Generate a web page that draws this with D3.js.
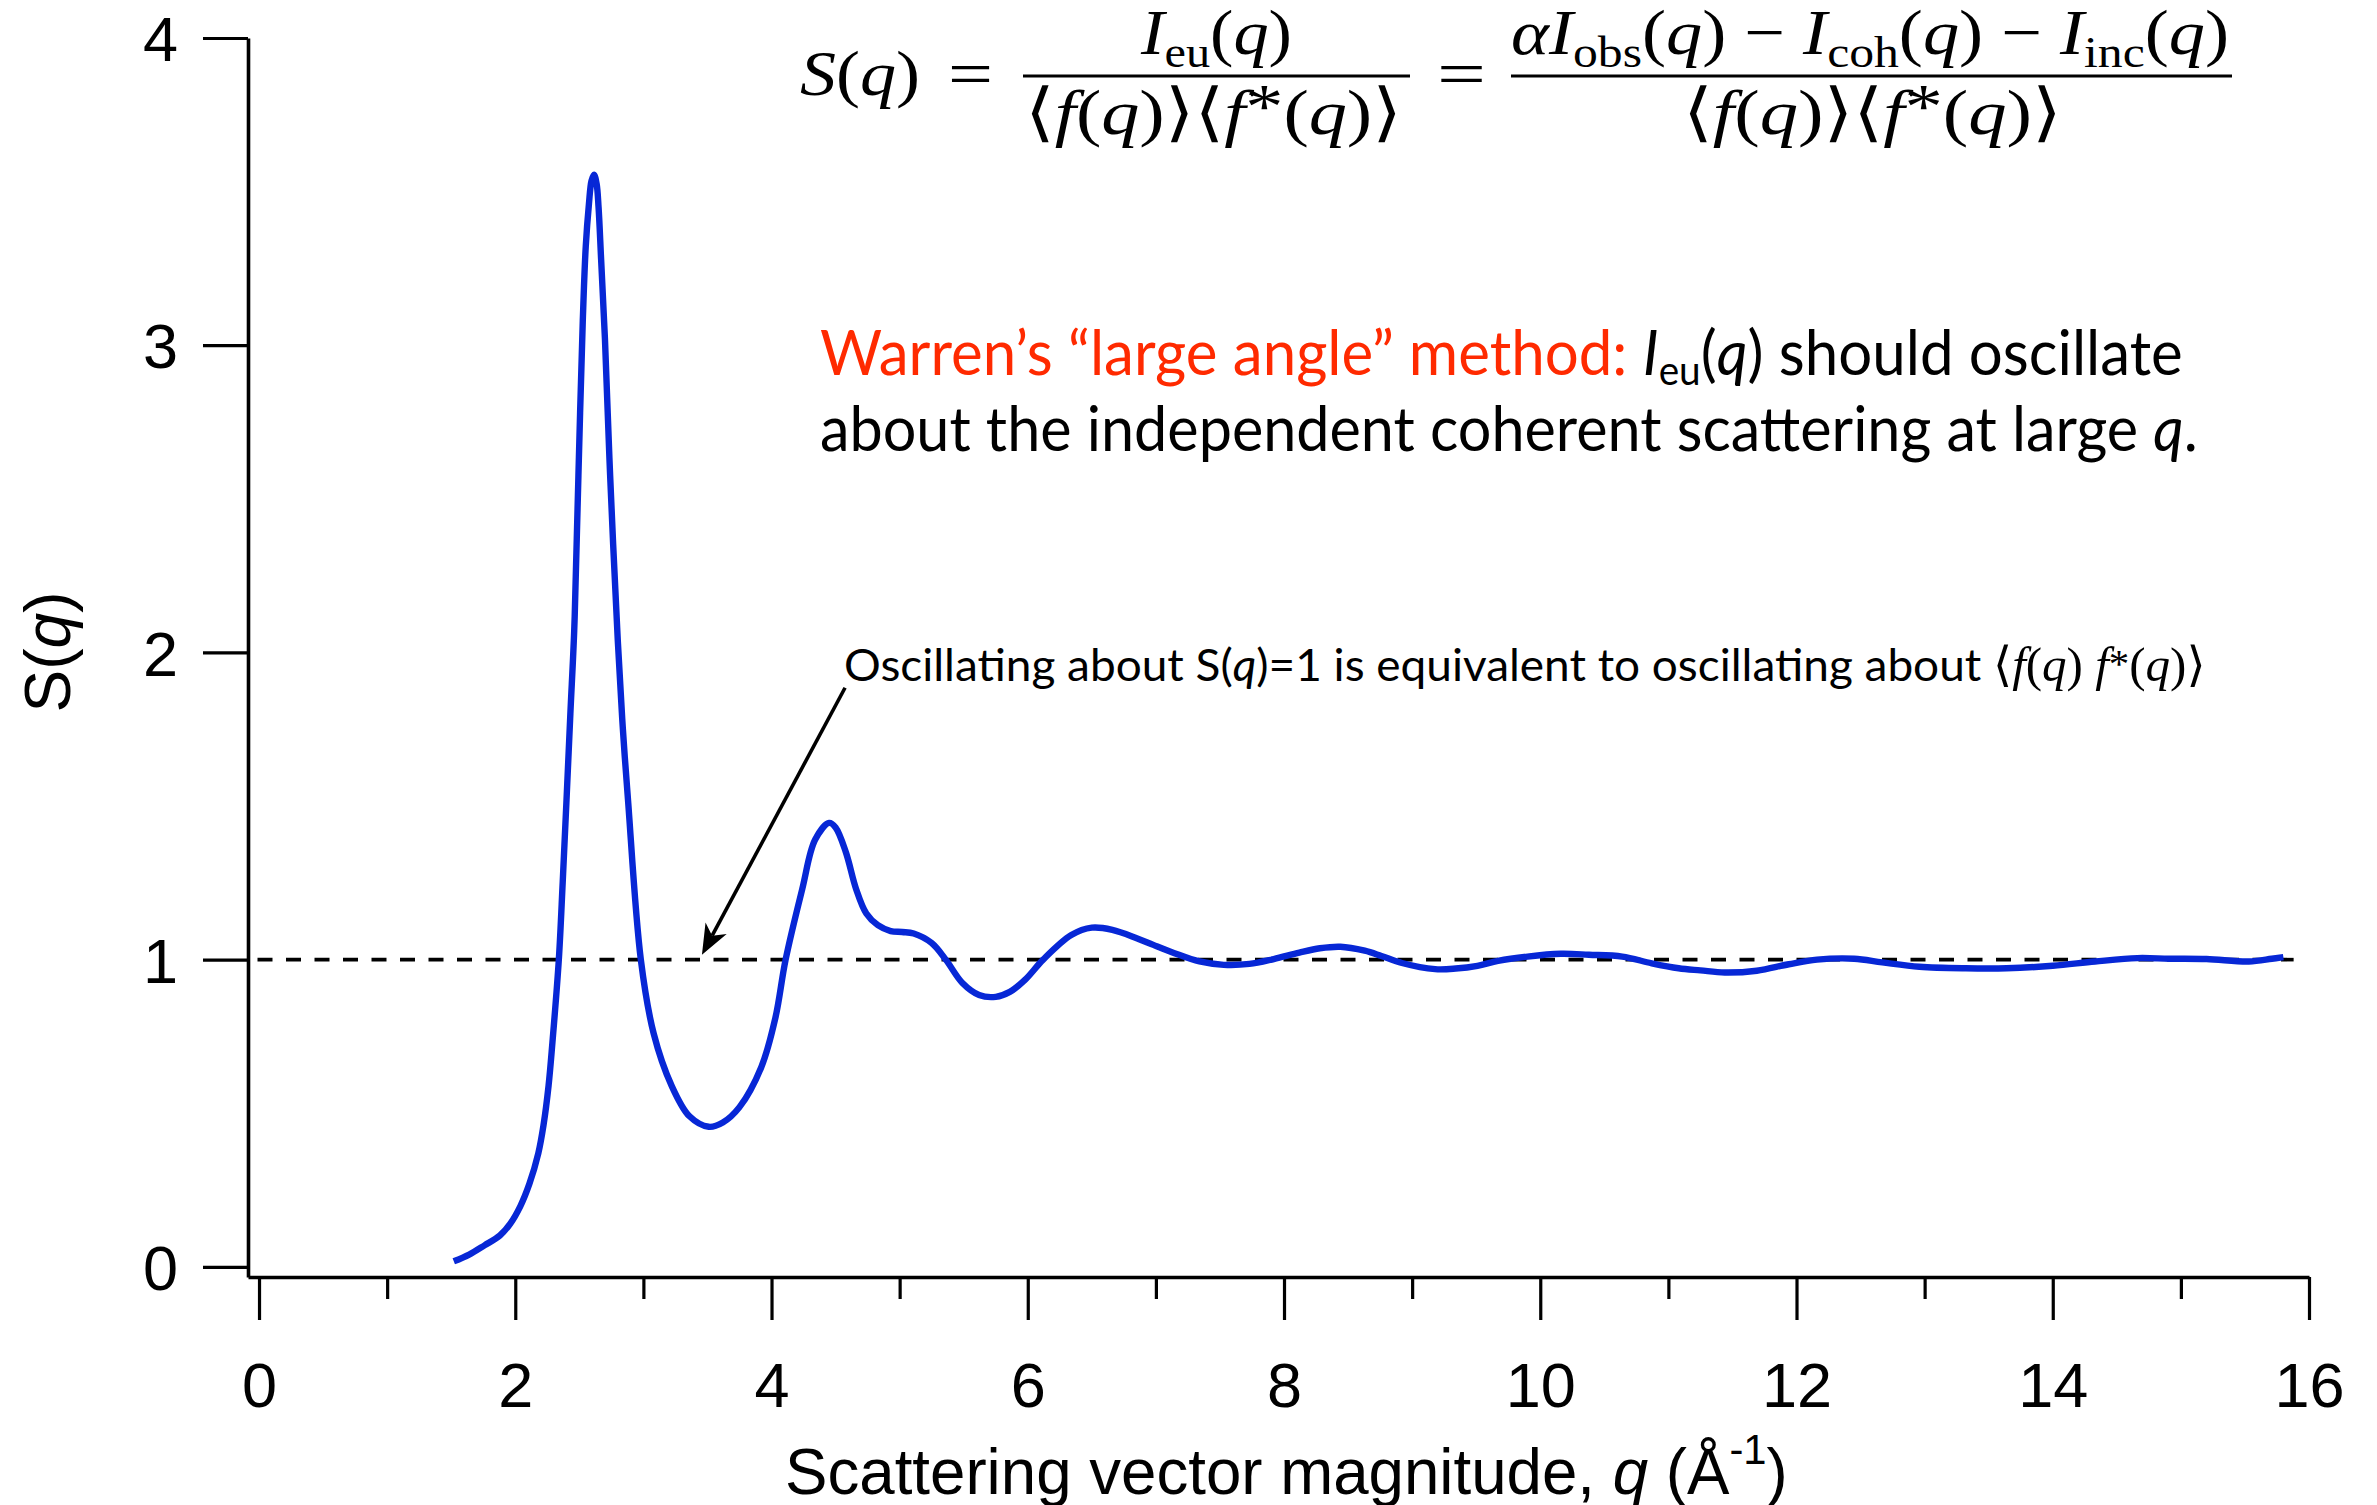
<!DOCTYPE html>
<html><head><meta charset="utf-8">
<script src="https://cdn.jsdelivr.net/npm/d3@7"></script>
<style>
html,body{margin:0;padding:0;background:#fff;}
svg{display:block;}
</style></head>
<body><svg id="chart" width="2377" height="1505"></svg>
<script>
// ---------------- data ----------------
const qValues = [1.52, 1.64, 1.76, 1.88, 1.96, 2.04, 2.11, 2.18, 2.22, 2.26, 2.29, 2.34, 2.37, 2.40, 2.43, 2.46, 2.48, 2.506, 2.527, 2.55, 2.575, 2.595, 2.615, 2.635, 2.65, 2.67, 2.70, 2.74, 2.80, 2.84, 2.88, 2.98, 3.08, 3.22, 3.36, 3.51, 3.62, 3.75, 3.92, 4.03, 4.11, 4.24, 4.34, 4.45, 4.50, 4.58, 4.66, 4.74, 4.83, 4.93, 5.02, 5.11, 5.25, 5.36, 5.49, 5.62, 5.75, 5.86, 5.98, 6.12, 6.34, 6.50, 6.66, 6.85, 6.98, 7.14, 7.34, 7.53, 7.73, 7.92, 8.12, 8.28, 8.44, 8.63, 8.76, 8.92, 9.18, 9.34, 9.51, 9.67, 9.90, 10.16, 10.38, 10.64, 10.87, 11.08, 11.25, 11.44, 11.69, 11.94, 12.16, 12.45, 12.67, 12.96, 13.32, 13.64, 14.00, 14.33, 14.66, 14.91, 15.20, 15.53, 15.71, 15.80];
const sValues = [0.018, 0.04, 0.07, 0.102, 0.14, 0.198, 0.27, 0.37, 0.46, 0.59, 0.73, 1.00, 1.25, 1.52, 1.80, 2.07, 2.37, 2.78, 3.08, 3.32, 3.46, 3.535, 3.555, 3.525, 3.45, 3.28, 3.02, 2.58, 2.04, 1.75, 1.52, 1.00, 0.76, 0.59, 0.49, 0.456, 0.47, 0.52, 0.65, 0.81, 1.00, 1.23, 1.39, 1.445, 1.43, 1.35, 1.23, 1.15, 1.112, 1.093, 1.09, 1.085, 1.054, 1.00, 0.924, 0.885, 0.879, 0.895, 0.935, 1.00, 1.08, 1.104, 1.097, 1.07, 1.048, 1.022, 0.994, 0.983, 0.986, 1.002, 1.023, 1.037, 1.042, 1.029, 1.012, 0.989, 0.969, 0.971, 0.98, 0.996, 1.01, 1.019, 1.016, 1.01, 0.988, 0.972, 0.965, 0.958, 0.964, 0.985, 1.00, 1.003, 0.991, 0.977, 0.972, 0.972, 0.98, 0.994, 1.005, 1.003, 1.002, 0.994, 1.003, 1.008];
const xTickValues = [0,1,2,3,4,5,6,7,8,9,10,11,12,13,14,15,16];
const xTickLabels = ["0","","2","","4","","6","","8","","10","","12","","14","","16"];
const yTickValues = [0,1,2,3,4];
const yTickLabels = ["0","1","2","3","4"];
const referenceLevel = 1;
const referenceRange = [-0.086, 15.88];
const arrowFrom = [4.574, 1.885];
const arrowTo = [3.457, 1.016];

// ---------------- setup ----------------
const svg = d3.select("#chart");
const SANS = "'Liberation Sans', Arial, Helvetica, sans-serif";
const SERIF = "'Liberation Serif', 'Times New Roman', 'DejaVu Serif', serif";
const HUM = "Lato, 'Open Sans', sans-serif";
const BLUE = "#0727d6";
const RED = "#ff2a00";

const x = d3.scaleLinear().domain([-0.086, 16]).range([248, 2309]);
const y = d3.scaleLinear().domain([-0.033, 4]).range([1277, 38]);

function fitWidth(sel, left, right){
  const bb = sel.node().getBBox();
  const k = (right - left) / bb.width;
  sel.attr("transform", `translate(${left},0) scale(${k},1) translate(${-bb.x},0)`);
}
function runs(textSel, list){
  list.forEach(r => {
    const t = textSel.append("tspan").text(r.t);
    if (r.i) t.attr("font-style","italic");
    if (r.size) t.attr("font-size", r.size);
    if (r.dy) t.attr("dy", r.dy);
    if (r.fill) t.attr("fill", r.fill);
    if (r.ff) t.attr("font-family", r.ff);
  });
}

// ---------------- reference dashed line ----------------
svg.append("line")
  .attr("x1", x(referenceRange[0])).attr("x2", x(referenceRange[1]))
  .attr("y1", y(referenceLevel)).attr("y2", y(referenceLevel))
  .attr("stroke","#000").attr("stroke-width",3.6)
  .attr("stroke-dasharray","15 13.5").attr("stroke-dashoffset",19);

// ---------------- curve ----------------
const data = qValues.map((q,i)=>({q, s:sValues[i]}));
const line = d3.line().x(d=>x(d.q)).y(d=>y(d.s)).curve(d3.curveCatmullRom.alpha(0.5));
svg.append("path").datum(data).attr("d", line)
  .attr("fill","none").attr("stroke",BLUE).attr("stroke-width",6.4)
  .attr("stroke-linejoin","round").attr("stroke-linecap","butt");

// ---------------- axes ----------------
const xAxis = d3.axisBottom(x).tickValues(xTickValues).tickSize(43).tickSizeOuter(0)
  .tickFormat((d,i)=>xTickLabels[i]);
const gx = svg.append("g").attr("transform", `translate(0,${y.range()[0]})`).call(xAxis);
gx.select(".domain").attr("stroke","#000").attr("stroke-width",3.6);
gx.selectAll(".tick line").attr("stroke","#000").attr("stroke-width",3.2)
  .attr("y2",(d,i)=> xTickLabels[i] === "" ? 22 : 43);
gx.selectAll(".tick text").attr("font-family",SANS).attr("font-size",63)
  .attr("fill","#000").attr("y",130).attr("dy",0);

const yAxis = d3.axisLeft(y).tickValues(yTickValues).tickSize(45).tickSizeOuter(0)
  .tickFormat((d,i)=>yTickLabels[i]);
const gy = svg.append("g").attr("transform", `translate(${x.range()[0]},0)`).call(yAxis);
gy.select(".domain").attr("stroke","#000").attr("stroke-width",3.6);
gy.selectAll(".tick line").attr("stroke","#000").attr("stroke-width",3.2);
gy.selectAll(".tick text").attr("font-family",SANS).attr("font-size",63)
  .attr("fill","#000").attr("x",-70).attr("dy","0.36em");

// axis titles
const xt = svg.append("text").attr("x",785).attr("y",1494)
  .attr("font-family",SANS).attr("font-size",64).attr("fill","#000");
runs(xt,[{t:"Scattering vector magnitude, "},{t:"q",i:true},{t:" (Å"},{t:"-1",size:42,dy:-30},{t:")",dy:30}]);
fitWidth(xt,785,1788);

const yt = svg.append("text").attr("transform","translate(70,652) rotate(-90)")
  .attr("text-anchor","middle").attr("font-family",SANS).attr("font-size",64).attr("fill","#000");
runs(yt,[{t:"S("},{t:"q",i:true},{t:")"}]);

// ---------------- arrow ----------------
const ax1 = x(arrowFrom[0]), ay1 = y(arrowFrom[1]), ax2 = x(arrowTo[0]), ay2 = y(arrowTo[1]);
const ang = Math.atan2(ay2-ay1, ax2-ax1);
const L = 30, W = 12;
const bx = ax2 - L*Math.cos(ang), by = ay2 - L*Math.sin(ang);
const nx = -Math.sin(ang), ny = Math.cos(ang);
const mx = ax2 - 0.72*L*Math.cos(ang), my = ay2 - 0.72*L*Math.sin(ang);
svg.append("line").attr("x1",ax1).attr("y1",ay1).attr("x2",mx).attr("y2",my)
  .attr("stroke","#000").attr("stroke-width",3.6);
svg.append("path")
  .attr("d",`M${ax2},${ay2} L${bx+nx*W},${by+ny*W} L${mx},${my} L${bx-nx*W},${by-ny*W} Z`)
  .attr("fill","#000");

// ---------------- annotation texts ----------------
const t1 = svg.append("text").attr("x",820).attr("y",375)
  .attr("font-family",HUM).attr("font-size",62).attr("fill","#000");
runs(t1,[{t:"Warren’s “large angle” method: ",fill:RED},{t:"I",i:true},{t:"eu",size:40,dy:10},
  {t:"(",dy:-10},{t:"q",i:true},{t:") should oscillate"}]);
fitWidth(t1,820,2183);

const t2 = svg.append("text").attr("x",820).attr("y",451)
  .attr("font-family",HUM).attr("font-size",62).attr("fill","#000");
runs(t2,[{t:"about the independent coherent scattering at large "},{t:"q",i:true},{t:"."}]);
fitWidth(t2,820,2198);

const t3 = svg.append("text").attr("x",844).attr("y",681)
  .attr("font-family",HUM).attr("font-size",45).attr("fill","#000");
runs(t3,[{t:"Oscillating about S("},{t:"q",i:true},{t:")=1 is equivalent to oscillating about "},
  {t:"⟨",ff:SERIF,size:48},{t:"f",i:true,ff:SERIF,size:48},{t:"(",ff:SERIF,size:48},{t:"q",i:true,ff:SERIF,size:48},
  {t:") ",ff:SERIF,size:48},{t:"f",i:true,ff:SERIF,size:48},{t:"*",ff:SERIF,size:40,dy:-4},
  {t:"(",ff:SERIF,size:48,dy:4},{t:"q",i:true,ff:SERIF,size:48},{t:")⟩",ff:SERIF,size:48}]);
fitWidth(t3,844,2206);

// ---------------- equation ----------------
const EQ = 64;
function eqText(xl, xr, yb, list){
  const t = svg.append("text").attr("x",xl).attr("y",yb)
    .attr("font-family",SERIF).attr("font-size",EQ).attr("fill","#000");
  runs(t,list);
  fitWidth(t,xl,xr);
  return t;
}
const sub = (s)=>[{t:s,size:44,dy:13}];
eqText(800,920,95,[{t:"S",i:true},{t:"("},{t:"q",i:true},{t:")"}]);
eqText(948,993,95,[{t:"="}]);
eqText(1140,1292,54,[{t:"I",i:true},...sub("eu"),{t:"(",dy:-13},{t:"q",i:true},{t:")"}]);
svg.append("line").attr("x1",1023).attr("x2",1410).attr("y1",76).attr("y2",76)
  .attr("stroke","#000").attr("stroke-width",3);
const den = [{t:"⟨"},{t:"f",i:true},{t:"("},{t:"q",i:true},{t:")⟩⟨"},{t:"f",i:true},{t:"*",dy:-6},{t:"(",dy:6},{t:"q",i:true},{t:")⟩"}];
eqText(1025,1402,134,den);
eqText(1437,1486,95,[{t:"="}]);
eqText(1511,2229,54,[{t:"α",i:true},{t:"I",i:true},...sub("obs"),{t:"(",dy:-13},{t:"q",i:true},{t:") − "},
  {t:"I",i:true},...sub("coh"),{t:"(",dy:-13},{t:"q",i:true},{t:") − "},
  {t:"I",i:true},...sub("inc"),{t:"(",dy:-13},{t:"q",i:true},{t:")"}]);
svg.append("line").attr("x1",1511).attr("x2",2232).attr("y1",76).attr("y2",76)
  .attr("stroke","#000").attr("stroke-width",3);
eqText(1683,2062,134,den);
</script>
</body></html>
